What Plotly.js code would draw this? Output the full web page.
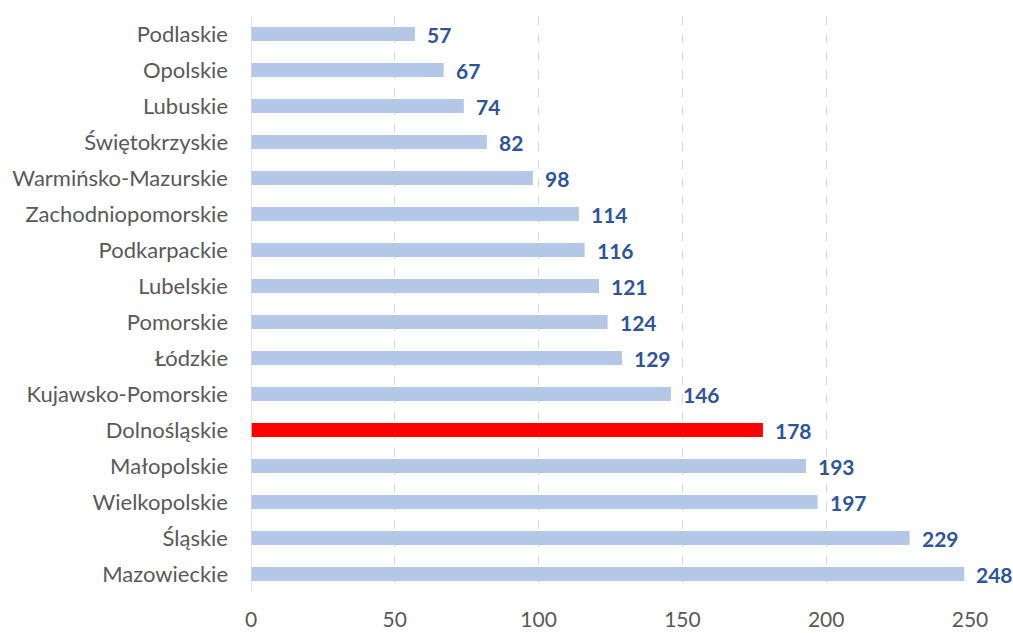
<!DOCTYPE html>
<html>
<head>
<meta charset="utf-8">
<script src="https://cdn.plot.ly/plotly-3.0.1.min.js"></script>
<style>html,body{margin:0;padding:0;background:#fff;}#chart{width:1013px;height:633px;}</style>
</head>
<body>
<div id="chart"></div>
<script>
const categories = ["Podlaskie","Opolskie","Lubuskie","Świętokrzyskie","Warmińsko-Mazurskie","Zachodniopomorskie","Podkarpackie","Lubelskie","Pomorskie","Łódzkie","Kujawsko-Pomorskie","Dolnośląskie","Małopolskie","Wielkopolskie","Śląskie","Mazowieckie"];
const values = [57,67,74,82,98,114,116,121,124,129,146,178,193,197,229,248];
const highlight = "Dolnośląskie";
const tickVals = [0,50,100,150,200,250];

const colors = categories.map(c => c === highlight ? "#FF0000" : "#B4C7E7");
const font = "Lato, sans-serif";

const trace = {
  type: "bar",
  orientation: "h",
  x: values,
  y: categories,
  marker: {color: colors},
  hoverinfo: "x+y"
};

const annotations = categories.map((c, i) => ({
  x: values[i], y: c, xref: "x", yref: "y",
  text: "<b>" + values[i] + "</b>",
  showarrow: false, xanchor: "left", yanchor: "middle",
  xshift: 10,
  font: {family: font, size: 21, color: "#2F5597"}
}));

const layout = {
  width: 1013, height: 633,
  margin: {l: 251, r: 43, t: 16, b: 41},
  paper_bgcolor: "#fff", plot_bgcolor: "#fff",
  showlegend: false,
  bargap: 0.61,
  xaxis: {
    range: [0, 250],
    tickvals: tickVals,
    showgrid: true, gridcolor: "#D9D9D9", griddash: "dash", gridwidth: 1,
    zeroline: false, showline: false,
    ticks: "",
    ticklabelstandoff: 13,
    tickfont: {family: font, size: 21, color: "#595959"}
  },
  yaxis: {
    autorange: "reversed",
    showgrid: false, zeroline: false,
    showline: false,
    ticks: "",
    ticklabelstandoff: 22,
    tickfont: {family: font, size: 22, color: "#595959"}
  },
  shapes: [{type: "line", xref: "x", yref: "paper", x0: 0, x1: 0, y0: 0, y1: 1, line: {color: "#D9D9D9", width: 1.5}}],
  annotations: annotations
};

Plotly.newPlot("chart", [trace], layout, {displayModeBar: false, staticPlot: true});
</script>
</body>
</html>
